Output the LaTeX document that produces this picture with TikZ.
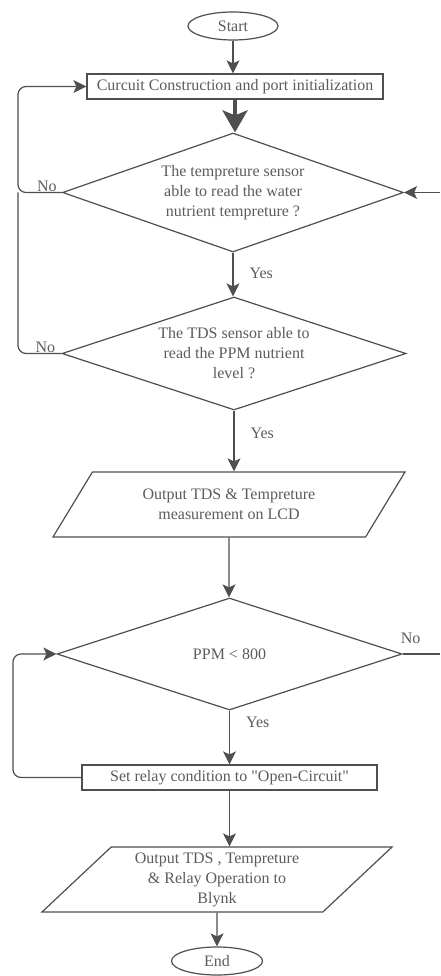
\documentclass[tikz,border=0pt]{standalone}
\usepackage{fontspec}
\setmainfont{Liberation Serif}
\usetikzlibrary{arrows.meta,shapes.geometric,positioning,calc}
\definecolor{linegray}{HTML}{4F4F4F}
\definecolor{textgray}{HTML}{5C5C5C}
\tikzset{
  every node/.style={font=\fontsize{16}{20}\selectfont, text=textgray},
  terminal/.style={draw=linegray, line width=1.2pt, ellipse, minimum width=90pt, minimum height=28pt, inner sep=0pt},
  process/.style={draw=linegray, line width=1.2pt, rectangle, minimum height=25pt, inner sep=0pt},
  decision/.style={draw=linegray, line width=1.2pt, diamond, aspect=3, align=center, inner sep=0pt, minimum width=344pt, minimum height=115pt},
  io/.style={draw=linegray, line width=1.2pt, trapezium, trapezium left angle=38, trapezium right angle=142,
    trapezium stretches body, align=center, minimum width=352pt, minimum height=65pt, inner sep=0pt},
  flow/.style={draw=linegray, line width=1.2pt, -{Stealth[length=13pt,width=13pt,inset=3pt]}},
  link/.style={draw=linegray, line width=1.2pt},
  tag/.style={inner sep=1pt},
}

\begin{document}
\begin{tikzpicture}[x=1pt, y=-1pt]
    \useasboundingbox[fill=white] (0,0) rectangle (440,976);

    % Start and setup
    \node[terminal] (start) at (233,26) {Start};
    \node[process, minimum width=296pt] (init) at (235,86.5) {Curcuit Construction and port initialization};

    % Sensor checks
    \node[decision, minimum width=341pt, minimum height=119pt] (tempchk) at (233,192.5)
        {The tempreture sensor\\able to read the water\\nutrient tempreture ?};
    \node[decision, minimum height=113pt] (tdschk) at (234,353.5)
        {The TDS sensor able to\\read the PPM nutrient\\level ?};

    % LCD output
    \node[io] (lcd) at (229,504.5) {Output TDS \& Tempreture\\measurement on LCD};

    % PPM threshold and relay
    \node[decision, minimum width=345pt, minimum height=112pt] (ppmchk) at (229.5,654) {PPM \textless{} 800};
    \node[process, minimum width=295pt] (relay) at (229.5,777.5) {Set relay condition to \textquotedbl Open-Circuit\textquotedbl};

    % Blynk output and end
    \node[io, minimum width=350pt] (blynk) at (217,879.5) {Output TDS , Tempreture\\\& Relay Operation to\\Blynk};
    \node[terminal, minimum width=91pt] (stop) at (217,961) {End};

    % loop columns and page edge
    \coordinate (loopA) at (18,0);
    \coordinate (loopB) at (13,0);
    \coordinate (edgeR) at (440,0);

    % Main flow
    \draw[flow] (start) -- (start |- init.north);
    \draw[link, line width=4pt, -{Stealth[length=22pt,width=25pt,inset=5pt]}] (init) -- (init.south |- tempchk.north);
    \draw[flow] (tempchk) -- (tempchk |- tdschk.north) node[tag, pos=0.47, right=15pt] (yesA) {Yes};
    \draw[flow] (tdschk) -- (tdschk |- lcd.north) node[tag, pos=0.37, right=15pt] (yesB) {Yes};
    \draw[flow] (lcd) -- (lcd |- ppmchk.north);
    \draw[flow] (ppmchk) -- (ppmchk |- relay.north) node[tag, pos=0.22, right=15pt] (yesC) {Yes};
    \draw[flow] (relay) -- (relay |- blynk.north);
    \draw[flow] (blynk) -- (blynk |- stop.north);

    % Retry loops
    \draw[flow, rounded corners=8pt] (tempchk.west) -- (tempchk.west -| loopA) |- (init.west);
    \draw[link, rounded corners=8pt] (tdschk.west) -- (tdschk.west -| loopA) -- (tempchk.west -| loopA);
    \draw[flow, rounded corners=8pt] (relay.west) -- (relay.west -| loopB) |- (ppmchk.west);
    \node[tag, above left=0pt and 4pt of tempchk.west] (noA) {No};
    \node[tag, above left=0pt and 5pt of tdschk.west] (noB) {No};

    % Off-page links
    \draw[flow] (tempchk.east -| edgeR) -- (tempchk.east);
    \draw[link] (ppmchk.east) -- (ppmchk.east -| edgeR);
    \node[tag, above right=9pt and -3pt of ppmchk.east] (noC) {No};
\end{tikzpicture}
\end{document}
